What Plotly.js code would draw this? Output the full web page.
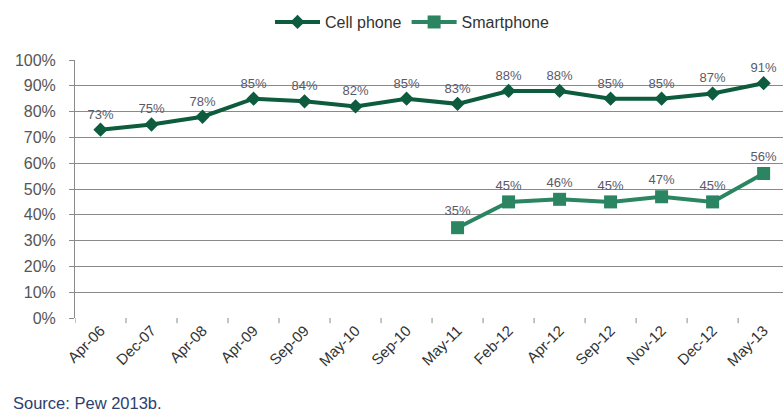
<!DOCTYPE html>
<html>
<head>
<meta charset="utf-8">
<script src="https://cdn.plot.ly/plotly-3.0.1.min.js"></script>
<style>html,body{margin:0;padding:0;background:#fff;}#chart{width:783px;height:413px;}</style>
</head>
<body>
<div id="chart"></div>
<script>
var categories = ["Apr-06","Dec-07","Apr-08","Apr-09","Sep-09","May-10","Sep-10","May-11","Feb-12","Apr-12","Sep-12","Nov-12","Dec-12","May-13"];
var cellPhone = [73,75,78,85,84,82,85,83,88,88,85,85,87,91];
var smartCats = ["May-11","Feb-12","Apr-12","Sep-12","Nov-12","Dec-12","May-13"];
var smartphone = [35,45,46,45,47,45,56];
var yTickVals = [0,10,20,30,40,50,60,70,80,90,100];
var yTickText = yTickVals.map(function(v){return v+"%";});

var labelFont = {family:"Liberation Sans, Arial, sans-serif", size:13, color:"#5a5a6a"};
var traces = [
  {x:categories, y:cellPhone, name:"Cell phone", type:"scatter", mode:"lines+markers+text",
   line:{color:"#0d5c3e", width:4}, marker:{symbol:"diamond", size:11, color:"#0d5c3e"},
   text:cellPhone.map(function(v){return v+"%";}), textposition:"top center", textfont:labelFont, cliponaxis:false},
  {x:smartCats, y:smartphone, name:"Smartphone", type:"scatter", mode:"lines+markers+text",
   line:{color:"#2b8462", width:4}, marker:{symbol:"square", size:13, color:"#2b8462"},
   text:smartphone.map(function(v){return v+"%";}), textposition:"top center", textfont:labelFont, cliponaxis:false}
];
var layout = {
  width:783, height:413,
  margin:{l:75, r:0, t:60, b:95},
  paper_bgcolor:"#ffffff", plot_bgcolor:"#ffffff",
  font:{family:"Liberation Sans, Arial, sans-serif", size:14, color:"#444"},
  showlegend:true,
  legend:{orientation:"h", x:0.476, xanchor:"center", y:1.147, yanchor:"middle", yref:"paper",
          font:{size:16, color:"#333"}, traceorder:"normal", itemwidth:45},
  xaxis:{type:"category", categoryarray:categories, range:[-0.5, 13.38], showgrid:false,
         showline:false, ticks:"", tickangle:-45, tickfont:{size:15, color:"#333"}, zeroline:false},
  yaxis:{range:[0,100], tickvals:yTickVals, ticktext:yTickText, showgrid:true, gridcolor:"#8a8a8a", gridwidth:1,
         showline:true, linecolor:"#8a8a8a", ticks:"outside", ticklen:5, tickcolor:"#8a8a8a",
         ticklabelstandoff:10,
         tickfont:{size:16, color:"#555"}, zeroline:false, fixedrange:true},
  shapes:[],
  annotations:[
    {text:"Source: Pew 2013b.", xref:"paper", yref:"paper", x:-0.09, y:-0.33, xanchor:"left", yanchor:"middle",
     showarrow:false, font:{size:16.5, color:"#2c3e6e"}}
  ]
};
for (var i=0;i<=categories.length;i++){
  layout.shapes.push({type:"line", xref:"x", yref:"paper", x0:i-0.5, x1:i-0.5, y0:0, y1:-0.02, line:{color:"#8a8a8a", width:1}});
}
Plotly.newPlot("chart", traces, layout, {displayModeBar:false});
</script>
</body>
</html>
